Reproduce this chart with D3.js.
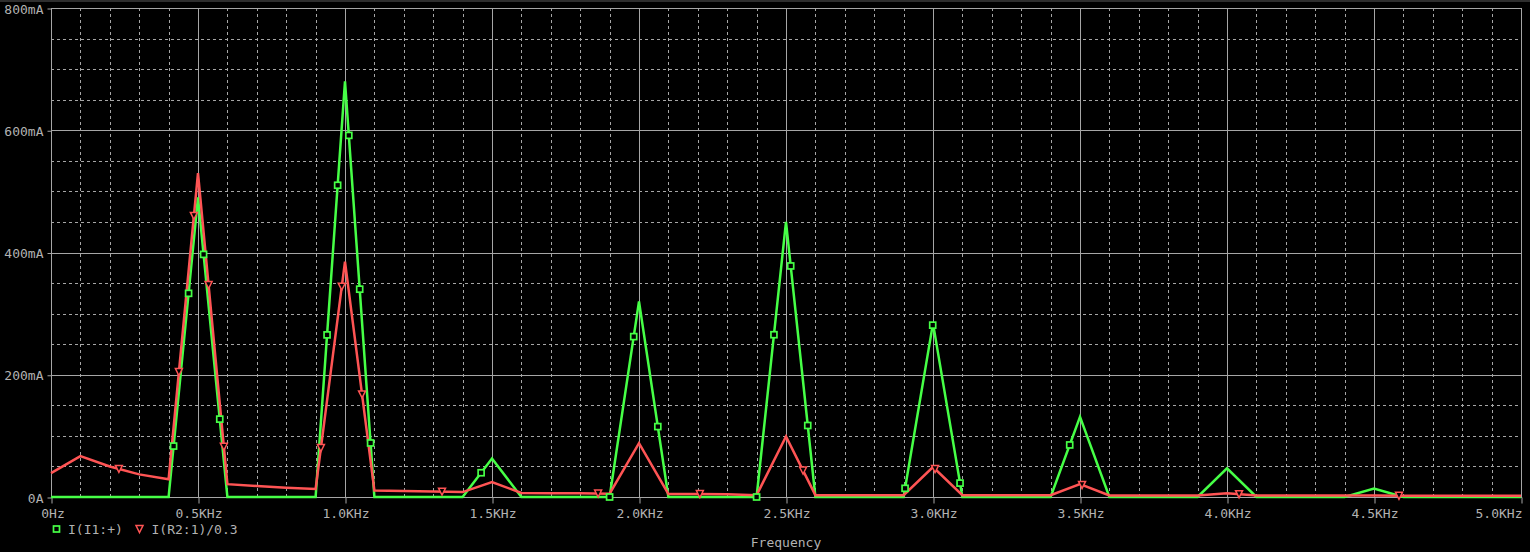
<!DOCTYPE html>
<html>
<head>
<meta charset="utf-8">
<script src="https://cdn.jsdelivr.net/npm/d3@7"></script>
<style>
  html, body { margin: 0; padding: 0; background: #000; }
  svg { display: block; }
  text { font-family: "DejaVu Sans Mono", monospace; font-size: 13px; fill: #b2b2b2; }
</style>
</head>
<body>
<svg id="chart" width="1530" height="552"></svg>
<script>
// ---- data (frequency in KHz, current in mA) ----
const freqs = [0.0,0.1,0.2,0.3,0.4,0.5,0.6,0.7,0.8,0.9,1.0,1.1,1.2,1.3,1.4,1.5,1.6,1.7,1.8,1.9,2.0,2.1,2.2,2.3,2.4,2.5,2.6,2.7,2.8,2.9,3.0,3.1,3.2,3.3,3.4,3.5,3.6,3.7,3.8,3.9,4.0,4.1,4.2,4.3,4.4,4.5,4.6,4.7,4.8,4.9,5.0];
const seriesI1 = [0,0,0,0,0,490,0,0,0,0,680,0,0,0,0,63,0,0,0,0,320,0,0,0,0,450,0,0,0,0,284,0,0,0,0,131,0,0,0,0,47,0,0,0,0,14,0,0,0,0,0];
const seriesR2 = [39,67,50,37,29,530,21,18,15,13,385,10.5,10,9,8,24.5,6.5,6,6,5.5,88,5,5,4.5,3,99,3,3,3,3,49,3,3,3,3,21,2.5,2.5,2.5,2.5,6,2.5,2.5,2.5,2.5,2.5,2,2,2,2,2];
const markersI1 = [0.417,0.468,0.519,0.574,0.939,0.975,1.013,1.050,1.087,1.463,1.900,1.982,2.064,2.400,2.459,2.516,2.574,2.905,2.999,3.092,3.465];
const markersR2 = [0.231,0.435,0.486,0.536,0.588,0.918,0.989,1.058,1.330,1.861,2.207,2.558,3.007,3.507,4.041,4.585];
const yTickLabels = ["0A","200mA","400mA","600mA","800mA"];
const yTickValues = [0,200,400,600,800];
const xTickValues = [0,0.5,1.0,1.5,2.0,2.5,3.0,3.5,4.0,4.5,5.0];
const xTickLabels = ["0Hz","0.5KHz","1.0KHz","1.5KHz","2.0KHz","2.5KHz","3.0KHz","3.5KHz","4.0KHz","4.5KHz","5.0KHz"];
const legendLabels = ["I(I1:+)","I(R2:1)/0.3"];
const xTitle = "Frequency";

// ---- layout ----
const L = 51, R = 1521, T = 8, B = 497;
const GREEN = "#46ff46", RED = "#ff5454", GRID = "#a6a6a6", TEXT = "#b2b2b2";

const svg = d3.select("#chart");
svg.append("rect").attr("x",0).attr("y",0).attr("width",1530).attr("height",552).attr("fill","#000");
svg.append("rect").attr("x",0).attr("y",0).attr("width",1530).attr("height",2).attr("fill","#2e2e2e");

const x = d3.scaleLinear().domain([0,5]).range([L,R]);
const y = d3.scaleLinear().domain([0,800]).range([B,T]);

// dashed minor grid
const g = svg.append("g");
const minorX = d3.range(1,50).map(i => i/10).filter((v,i) => (i+1) % 5 !== 0);
const minorY = d3.range(50,800,50).filter(v => v % 200 !== 0);
g.selectAll(".mx").data(minorX).enter().append("line")
  .attr("x1", d => Math.round(x(d))+0.5).attr("x2", d => Math.round(x(d))+0.5)
  .attr("y1", T).attr("y2", B)
  .attr("stroke", GRID).attr("stroke-width",1).attr("stroke-dasharray","3,3");
g.selectAll(".my").data(minorY).enter().append("line")
  .attr("y1", d => Math.round(y(d))+0.5).attr("y2", d => Math.round(y(d))+0.5)
  .attr("x1", L).attr("x2", R)
  .attr("stroke", GRID).attr("stroke-width",1).attr("stroke-dasharray","3,3");

// solid major grid
g.selectAll(".Mx").data(xTickValues.slice(1,-1)).enter().append("line")
  .attr("x1", d => Math.round(x(d))+0.5).attr("x2", d => Math.round(x(d))+0.5)
  .attr("y1", T).attr("y2", B)
  .attr("stroke", GRID).attr("stroke-width",1);
g.selectAll(".My").data(yTickValues.slice(1,-1)).enter().append("line")
  .attr("y1", d => Math.round(y(d))+0.5).attr("y2", d => Math.round(y(d))+0.5)
  .attr("x1", L).attr("x2", R)
  .attr("stroke", GRID).attr("stroke-width",1);
// frame
g.append("rect").attr("x", L+0.5).attr("y", T+0.5).attr("width", R-L).attr("height", B-T)
  .attr("fill","none").attr("stroke", GRID).attr("stroke-width",1);

// axes (ticks + labels)
const xAxis = d3.axisBottom(x).tickValues(xTickValues)
  .tickFormat((d,i) => xTickLabels[i]).tickSizeInner(6).tickSizeOuter(0).tickPadding(5);
const xg = svg.append("g").attr("transform", `translate(0,${B+0.5})`).call(xAxis);
xg.select(".domain").remove();
xg.selectAll(".tick line").attr("stroke", GRID).attr("transform","translate(0.5,0)");
xg.selectAll(".tick text").attr("fill", TEXT).attr("font-size", 13)
  .attr("font-family", "DejaVu Sans Mono, monospace")
  .attr("text-anchor", (d,i) => i === xTickValues.length-1 ? "end" : "middle")
  .attr("dx", (d,i) => i === xTickValues.length-1 ? "1" : (i === 0 ? "1.5" : "0.5"));

const yAxis = d3.axisLeft(y).tickValues(yTickValues)
  .tickFormat((d,i) => yTickLabels[i]).tickSizeInner(4).tickSizeOuter(0).tickPadding(4);
const yg = svg.append("g").attr("transform", `translate(${L+0.5},0)`).call(yAxis);
yg.select(".domain").remove();
yg.selectAll(".tick line").attr("stroke", GRID).attr("transform","translate(0,0.5)");
yg.selectAll(".tick text").attr("fill", TEXT).attr("font-size", 13)
  .attr("font-family", "DejaVu Sans Mono, monospace").attr("dy","0.4em");

// traces
const line = d3.line().x((d,i) => x(freqs[i])).y(d => y(d));
svg.append("path").datum(seriesI1).attr("d", line)
  .attr("fill","none").attr("stroke", GREEN).attr("stroke-width", 2.5).attr("stroke-linejoin","miter");
svg.append("path").datum(seriesR2).attr("d", line)
  .attr("fill","none").attr("stroke", RED).attr("stroke-width", 2.5).attr("stroke-linejoin","miter");

// markers sit on the traces
function valueAt(series, f) {
  const i = Math.min(freqs.length - 2, Math.floor(f / 0.1 + 1e-9));
  const t = (f - freqs[i]) / (freqs[i+1] - freqs[i]);
  return series[i] + t * (series[i+1] - series[i]);
}
const sq = 6, tri = 7;
svg.selectAll(".m1").data(markersI1).enter().append("rect")
  .attr("x", d => x(d) - sq/2).attr("y", d => y(valueAt(seriesI1, d)) - sq/2)
  .attr("width", sq).attr("height", sq)
  .attr("fill","#000").attr("stroke", GREEN).attr("stroke-width", 1.7);
const triPath = `M${-tri/2},${-tri/2}L${tri/2},${-tri/2}L0,${tri/2}Z`;
svg.selectAll(".m2").data(markersR2).enter().append("path")
  .attr("d", triPath)
  .attr("transform", d => `translate(${x(d)},${y(valueAt(seriesR2, d))})`)
  .attr("fill","#000").attr("stroke", RED).attr("stroke-width", 1.5);

// legend
const lg = svg.append("g");
lg.append("rect").attr("x", 53.5).attr("y", 526).attr("width", sq).attr("height", sq)
  .attr("fill","#000").attr("stroke", GREEN).attr("stroke-width", 1.7);
lg.append("text").attr("x", 68).attr("y", 533.5).text(legendLabels[0]);
lg.append("path").attr("d", triPath).attr("transform","translate(139.5,529)")
  .attr("fill","#000").attr("stroke", RED).attr("stroke-width", 1.5);
lg.append("text").attr("x", 151.5).attr("y", 533.5).text(legendLabels[1]);

// axis title
svg.append("text").attr("x", (L+R)/2).attr("y", 547).attr("text-anchor","middle").text(xTitle);
</script>
</body>
</html>
